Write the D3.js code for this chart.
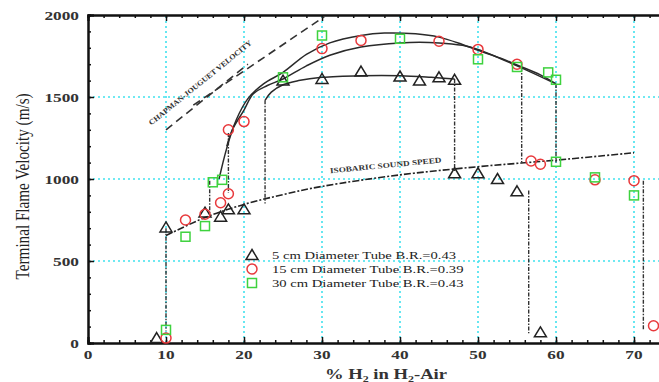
<!DOCTYPE html>
<html>
<head>
<meta charset="utf-8">
<title>Terminal Flame Velocity</title>
<script src="https://cdn.jsdelivr.net/npm/d3@7"></script>
<style>
  body { margin: 0; background: #fff; }
  svg { display: block; font-family: "Liberation Serif", "DejaVu Serif", serif; }
</style>
</head>
<body>
<svg id="chart" width="659" height="382"></svg>
<script>
  // ---- data ----
  // 5 cm tube (triangles)
  const triX = [8.8, 10, 15, 17, 18, 20, 25, 30, 35, 40, 42.5, 45, 47, 47, 50, 52.5, 55, 58];
  const triY = [30, 705, 795, 770, 815, 815, 1600, 1610, 1655, 1625, 1600, 1620, 1605, 1035, 1035, 1000, 925, 65];
  // 15 cm tube (circles)
  const cirX = [10, 12.5, 15, 17, 18, 18, 20, 30, 35, 45, 50, 55, 56.8, 58, 65, 70, 72.5];
  const cirY = [30, 750, 785, 855, 910, 1300, 1350, 1795, 1845, 1840, 1790, 1700, 1110, 1090, 995, 990, 105];
  // 30 cm tube (squares)
  const sqX = [10, 12.5, 15, 16, 17.2, 25, 30, 40, 50, 55, 59, 60, 60, 65, 70];
  const sqY = [80, 648, 713, 980, 995, 1620, 1875, 1855, 1730, 1683, 1650, 1605, 1105, 1010, 900];

  // fitted solid curves
  const fitAX = [16.8, 17.8, 19, 20.5, 22.5, 25, 28, 31, 35, 38, 42, 45, 48, 50, 53, 55, 58, 60];
  const fitAY = [1000, 1190, 1360, 1490, 1580, 1650, 1760, 1830, 1875, 1890, 1885, 1865, 1820, 1785, 1735, 1695, 1635, 1580];
  const fitBX = [17.8, 18.5, 20, 21.2, 23, 25, 28, 31, 35, 40, 45, 48, 50, 55, 60];
  const fitBY = [1200, 1300, 1420, 1520, 1570, 1610, 1690, 1755, 1805, 1830, 1830, 1815, 1790, 1690, 1580];
  const fitTX = [22.7, 23.5, 25, 27, 30, 35, 40, 44, 47];
  const fitTY = [1480, 1530, 1575, 1600, 1620, 1630, 1630, 1620, 1610];

  // isobaric sound speed
  const sndX = [10, 15, 20, 25, 30, 40, 50, 60, 70];
  const sndY = [655, 765, 845, 905, 955, 1025, 1075, 1115, 1160];

  // Chapman-Jouguet velocity (two dashed lines)
  const cjLowX = [10, 20.5];
  const cjLowY = [1300, 1700];
  const cjUpX = [13.5, 30.3];
  const cjUpY = [1450, 1990];

  // vertical dash-dot drops
  const dropX = [10, 15.6, 18, 22.7, 47, 55.6, 60, 56.5, 71.2];
  const dropTop = [700, 990, 1280, 1480, 1610, 1680, 1580, 930, 990];
  const dropBot = [75, 770, 915, 850, 1040, 1100, 1100, 60, 80];

  const xTicks = [0, 10, 20, 30, 40, 50, 60, 70];
  const yTicks = [0, 500, 1000, 1500, 2000];
  const legendLabels = [
    "5 cm Diameter Tube B.R.=0.43",
    "15 cm Diameter Tube B.R.=0.39",
    "30 cm Diameter Tube B.R.=0.43"
  ];

  // ---- drawing ----
  const svg = d3.select("#chart");
  const x = d3.scaleLinear().domain([0, 75]).range([88, 673]);
  const y = d3.scaleLinear().domain([0, 2000]).range([343, 15]);
  const zip = (a, b) => a.map((v, i) => [v, b[i]]);
  const wide = 1.33; // source image text looks stretched sideways

  // grid
  const grid = svg.append("g")
      .attr("stroke", "#40e2ee").attr("stroke-width", 1.6)
      .attr("stroke-dasharray", "2,3");
  grid.selectAll("line.gx").data(xTicks.filter(d => d > 0)).enter()
      .append("line").attr("class", "gx")
      .attr("x1", d => x(d)).attr("x2", d => x(d))
      .attr("y1", y(0)).attr("y2", y(2000));
  grid.selectAll("line.gy").data(yTicks.filter(d => d > 0 && d < 2000)).enter()
      .append("line").attr("class", "gy")
      .attr("y1", d => y(d)).attr("y2", d => y(d))
      .attr("x1", x(0)).attr("x2", x(75));

  // axes: bottom, top, left with inward ticks
  const minorX = d3.range(0, 76, 2);
  const minorY = d3.range(0, 2001, 100);
  svg.append("g").attr("transform", `translate(0,${y(0)})`)
      .call(d3.axisTop(x).tickValues(minorX).tickSize(3).tickFormat(""));
  svg.append("g").attr("transform", `translate(0,${y(0)})`)
      .call(d3.axisTop(x).tickValues(xTicks).tickSize(6).tickFormat(""));
  svg.append("g").attr("transform", `translate(0,${y(2000)})`)
      .call(d3.axisBottom(x).tickValues(minorX).tickSize(3).tickFormat(""));
  svg.append("g").attr("transform", `translate(0,${y(2000)})`)
      .call(d3.axisBottom(x).tickValues(xTicks).tickSize(6).tickFormat(""));
  svg.append("g").attr("transform", `translate(${x(0)},0)`)
      .call(d3.axisRight(y).tickValues(minorY).tickSize(3).tickFormat(""));
  svg.append("g").attr("transform", `translate(${x(0)},0)`)
      .call(d3.axisRight(y).tickValues(yTicks).tickSize(6).tickFormat(""));
  svg.selectAll(".domain").attr("stroke", "#111").attr("stroke-width", 2);
  svg.selectAll(".tick line").attr("stroke", "#111").attr("stroke-width", 1.5);

  // tick labels
  svg.append("g").selectAll("text").data(xTicks).enter().append("text")
      .attr("transform", d => `translate(${x(d)},359) scale(${wide},1)`)
      .attr("text-anchor", "middle").attr("font-size", 13).attr("font-weight", "bold")
      .attr("fill", "#333")
      .text(d => d);
  svg.append("g").selectAll("text").data(yTicks).enter().append("text")
      .attr("transform", d => `translate(79,${y(d) + 4.5}) scale(${wide},1)`)
      .attr("text-anchor", "end").attr("font-size", 13).attr("font-weight", "bold")
      .attr("fill", "#333")
      .text(d => d);

  // axis titles
  svg.append("text")
      .attr("transform", `translate(29,${y(955)}) rotate(-90) scale(1,1.25)`)
      .attr("text-anchor", "middle").attr("font-size", 15).attr("fill", "#222")
      .attr("textLength", 186).attr("lengthAdjust", "spacingAndGlyphs")
      .text("Terminal Flame Velocity (m/s)");
  const xt = svg.append("text")
      .attr("transform", `translate(386,379) scale(${wide},1)`)
      .attr("text-anchor", "middle").attr("font-size", 14).attr("font-weight", "bold")
      .attr("fill", "#333");
  xt.append("tspan").text("% H");
  xt.append("tspan").attr("font-size", 9).attr("dy", 2.5).text("2");
  xt.append("tspan").attr("dy", -2.5).text(" in H");
  xt.append("tspan").attr("font-size", 9).attr("dy", 2.5).text("2");
  xt.append("tspan").attr("dy", -2.5).text("-Air");

  // lines
  const straight = d3.line().x(d => x(d[0])).y(d => y(d[1]));
  const smooth = d3.line().x(d => x(d[0])).y(d => y(d[1])).curve(d3.curveCatmullRom);

  svg.append("path").datum(zip(sndX, sndY)).attr("d", smooth)
      .attr("fill", "none").attr("stroke", "#222").attr("stroke-width", 1.6)
      .attr("stroke-dasharray", "7,2,2,2");

  [[cjLowX, cjLowY], [cjUpX, cjUpY]].forEach(([a, b]) => {
    svg.append("path").datum(zip(a, b)).attr("d", straight)
        .attr("fill", "none").attr("stroke", "#333").attr("stroke-width", 1.6)
        .attr("stroke-dasharray", "8,5");
  });

  svg.append("g").selectAll("line").data(dropX).enter().append("line")
      .attr("x1", d => x(d)).attr("x2", d => x(d))
      .attr("y1", (d, i) => y(dropTop[i])).attr("y2", (d, i) => y(dropBot[i]))
      .attr("stroke", "#333").attr("stroke-width", 1.4)
      .attr("stroke-dasharray", "4,1.5,1.5,1.5");

  [[fitAX, fitAY], [fitBX, fitBY], [fitTX, fitTY]].forEach(([a, b]) => {
    svg.append("path").datum(zip(a, b)).attr("d", smooth)
        .attr("fill", "none").attr("stroke", "#2a2a2a").attr("stroke-width", 1.5);
  });

  // annotations
  svg.append("text")
      .attr("transform", `translate(${x(14.6)},${y(1575)}) rotate(-39)`)
      .attr("text-anchor", "middle").attr("font-size", 7.5).attr("font-weight", "bold")
      .attr("fill", "#333").attr("textLength", 130).attr("lengthAdjust", "spacingAndGlyphs")
      .text("CHAPMAN-JOUGUET VELOCITY");
  svg.append("text")
      .attr("transform", `translate(${x(38.2)},${y(1068)}) rotate(-5.6)`)
      .attr("text-anchor", "middle").attr("font-size", 7.5).attr("font-weight", "bold")
      .attr("fill", "#333").attr("textLength", 112).attr("lengthAdjust", "spacingAndGlyphs")
      .text("ISOBARIC SOUND SPEED");

  // markers
  const triPath = "M0,-5.5L6,4.5L-6,4.5Z";
  svg.append("g").selectAll("path").data(zip(triX, triY)).enter().append("path")
      .attr("d", triPath)
      .attr("transform", d => `translate(${x(d[0])},${y(d[1])})`)
      .attr("fill", "none").attr("stroke", "#222").attr("stroke-width", 1.5);
  svg.append("g").selectAll("circle").data(zip(cirX, cirY)).enter().append("circle")
      .attr("cx", d => x(d[0])).attr("cy", d => y(d[1])).attr("r", 5)
      .attr("fill", "none").attr("stroke", "#e8393c").attr("stroke-width", 1.5);
  svg.append("g").selectAll("rect").data(zip(sqX, sqY)).enter().append("rect")
      .attr("x", d => x(d[0]) - 4.5).attr("y", d => y(d[1]) - 4.5)
      .attr("width", 9).attr("height", 9)
      .attr("fill", "none").attr("stroke", "#3ed23e").attr("stroke-width", 1.5);

  // legend
  const leg = svg.append("g");
  const legY = [255, 269, 283];
  leg.append("path").attr("d", triPath)
      .attr("transform", `translate(252,${legY[0]})`)
      .attr("fill", "none").attr("stroke", "#222").attr("stroke-width", 1.5);
  leg.append("circle").attr("cx", 252).attr("cy", legY[1]).attr("r", 5)
      .attr("fill", "none").attr("stroke", "#e8393c").attr("stroke-width", 1.5);
  leg.append("rect").attr("x", 247.5).attr("y", legY[2] - 4.5).attr("width", 9).attr("height", 9)
      .attr("fill", "none").attr("stroke", "#3ed23e").attr("stroke-width", 1.5);
  leg.selectAll("text").data(legendLabels).enter().append("text")
      .attr("transform", (d, i) => `translate(272,${legY[i] + 4}) scale(${wide},1)`)
      .attr("font-size", 11).attr("fill", "#222")
      .text(d => d);
</script>
</body>
</html>
